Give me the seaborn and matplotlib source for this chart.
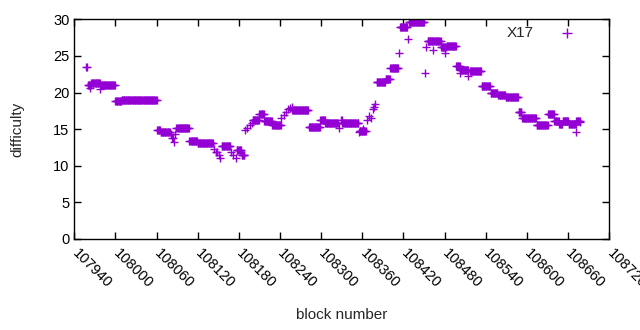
import numpy as np
import pandas as pd
import seaborn as sns
import matplotlib
matplotlib.use("Agg")
import matplotlib.pyplot as plt

# runs of blocks with the same difficulty (first block, last block, value)
seg_start = [107957, 107960, 107963, 107965, 107978, 107979, 108000, 108009,
             108061, 108066, 108081, 108083, 108086, 108087, 108089, 108108,
             108120, 108144, 108147, 108151, 108153, 108155, 108169, 108172,
             108176, 108177, 108184, 108189, 108192, 108196, 108199, 108200,
             108210, 108217, 108229, 108242, 108246, 108249, 108252, 108254,
             108257, 108258, 108282, 108299, 108306, 108326, 108329, 108331,
             108355, 108356, 108361, 108367, 108369, 108372, 108375, 108377,
             108378, 108381, 108394, 108401, 108414, 108415, 108427, 108428,
             108451, 108453, 108455, 108463, 108466, 108475, 108480, 108483,
             108497, 108503, 108503, 108514, 108517, 108534, 108547, 108558,
             108569, 108588, 108593, 108614, 108631, 108640, 108647, 108652,
             108661, 108672, 108672, 108677]
seg_end = [107958, 107964, 107963, 107977, 107978, 107999, 108008, 108060,
           108065, 108079, 108081, 108084, 108086, 108087, 108107, 108119,
           108142, 108144, 108148, 108151, 108153, 108167, 108169, 108172,
           108176, 108183, 108188, 108189, 108192, 108196, 108199, 108209,
           108216, 108228, 108241, 108242, 108246, 108249, 108252, 108254,
           108257, 108281, 108298, 108305, 108324, 108326, 108330, 108354,
           108355, 108365, 108361, 108367, 108369, 108372, 108375, 108377,
           108378, 108393, 108400, 108412, 108414, 108425, 108427, 108450,
           108451, 108453, 108464, 108463, 108474, 108482, 108480, 108496,
           108502, 108514, 108503, 108514, 108533, 108546, 108557, 108568,
           108587, 108592, 108613, 108630, 108639, 108646, 108651, 108660,
           108671, 108677, 108672, 108677]
seg_difficulty = [23.5, 21.0, 20.6, 21.35, 20.45, 21.0, 18.8, 18.95,
                  14.9, 14.6, 14.3, 13.85, 13.3, 14.4, 15.1, 13.4,
                  13.05, 12.3, 11.85, 11.4, 11.1, 12.7, 11.9, 11.4,
                  11.0, 12.2, 11.4, 14.9, 15.1, 15.5, 15.8, 16.2,
                  17.0, 16.1, 15.5, 16.5, 16.9, 17.3, 17.7, 17.9,
                  18.05, 17.6, 15.25, 16.2, 15.9, 15.2, 16.25, 15.8,
                  14.55, 14.8, 15.0, 16.3, 16.8, 16.5, 17.7, 18.05,
                  18.4, 21.5, 21.85, 23.3, 25.4, 29.0, 27.3, 29.6,
                  22.7, 26.2, 27.0, 25.8, 27.0, 26.2, 25.45, 26.3,
                  23.6, 23.1, 22.6, 22.3, 23.0, 20.9, 19.95, 19.6,
                  19.4, 17.3, 16.5, 15.5, 17.0, 16.1, 15.65, 16.1,
                  15.7, 16.15, 14.65, 16.0]

x_ticks = list(range(107940, 108721, 60))
y_ticks = [0, 5, 10, 15, 20, 25, 30]

blocks, diffs = [], []
for a, b, v in zip(seg_start, seg_end, seg_difficulty):
    for blk in range(a, b + 1):
        blocks.append(blk)
        diffs.append(v)
df = pd.DataFrame({"block": blocks, "difficulty": diffs})

sns.set_style("ticks")
plt.rcParams["font.family"] = ["Liberation Sans", "DejaVu Sans"]

fig = plt.figure(figsize=(6.4, 3.3), dpi=100)
ax = fig.add_axes([0.116, 0.276, 0.836, 0.6655])

sns.scatterplot(data=df, x="block", y="difficulty", marker="+", s=30,
                color="#9400D3", linewidth=1, label="X17", ax=ax)

ax.set_xlim(107940, 108720)
ax.set_ylim(0, 30)
ax.set_xticks(x_ticks)
ax.set_yticks(y_ticks)
ax.set_xticklabels([str(t) for t in x_ticks], rotation=-45, ha="left",
                   va="center", rotation_mode="anchor", fontsize=10.5)
ax.tick_params(axis="y", labelsize=10.5)
ax.tick_params(direction="in", length=5, width=1, top=True, right=True,
               color="black", labelcolor="black")
ax.tick_params(axis="x", pad=9)
for sp in ax.spines.values():
    sp.set_color("black")
    sp.set_linewidth(1)

ax.set_xlabel("block number", fontsize=11)
ax.set_ylabel("difficulty", fontsize=11)
ax.xaxis.set_label_coords(0.5, -0.315)
ax.yaxis.set_label_coords(-0.0925, 0.5)

ax.legend(loc="upper right", frameon=False, markerfirst=False, fontsize=11,
          handletextpad=1.2, bbox_to_anchor=(0.975, 1.034), markerscale=1.2)

fig.savefig("out.png", dpi=100)
